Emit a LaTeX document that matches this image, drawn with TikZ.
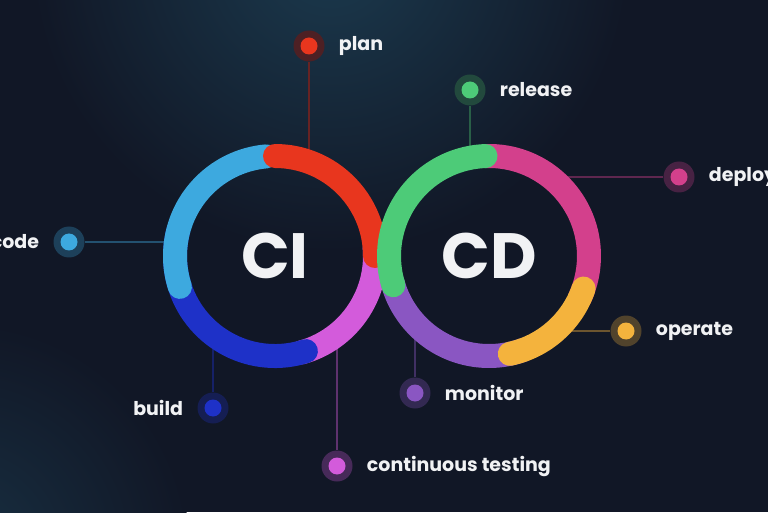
\documentclass[tikz,border=0pt]{standalone}
\usepackage{fontspec}
\setmainfont{Poppins}
\usetikzlibrary{positioning}

\definecolor{bgc}{HTML}{111726}
\definecolor{glowc}{HTML}{1B3A4E}
\definecolor{labelc}{HTML}{F1F2F4}
\definecolor{cired}{HTML}{E8361E}
\definecolor{cipink}{HTML}{D35BDB}
\definecolor{ciblue}{HTML}{1E31C8}
\definecolor{cilight}{HTML}{3DA9DF}
\definecolor{cdgreen}{HTML}{4DCB78}
\definecolor{cdpink}{HTML}{D3408C}
\definecolor{cdorange}{HTML}{F4B33D}
\definecolor{cdpurple}{HTML}{8A56C2}

\tikzset{
  ring/.style={line width=24pt, line cap=round, draw=#1},
  stem/.style={line width=2.5pt, draw=#1!40!bgc},
  dot/.style={circle, inner sep=0pt, minimum size=31pt, fill=#1!28!bgc,
    path picture={\fill[#1] (path picture bounding box.center) circle (8.5pt);}},
  lbl/.style={text=labelc, inner sep=0pt, font=\fontsize{19}{19}\selectfont\bfseries},
  big/.style={text=labelc, inner sep=0pt, font=\fontsize{64}{64}\selectfont\bfseries},
}

\begin{document}
\begin{tikzpicture}[x=1pt, y=1pt]
  % Background
  \useasboundingbox (0,0) rectangle (768,512);
  \fill[bgc] (0,0) rectangle (768,512);
  \begin{scope}
    \clip (0,0) rectangle (768,512);
    \shade[inner color=glowc, outer color=bgc] (330,560) circle (300pt);
    \shade[inner color=glowc!70!bgc, outer color=bgc] (-40,-40) circle (230pt);
  \end{scope}

  % Ring centres
  \coordinate (ci) at (275,256);
  \coordinate (cd) at (489,256);

  % Stage dots
  \node[dot=cired]    (plan)    at (309,466) {};
  \node[dot=cdgreen]  (release) at (470,422) {};
  \node[dot=cdpink]   (deploy)  at (679,335) {};
  \node[dot=cilight]  (code)    at (69,270)  {};
  \node[dot=cdorange] (operate) at (626,181) {};
  \node[dot=ciblue]   (build)   at (213,104) {};
  \node[dot=cdpurple] (monitor) at (415,119) {};
  \node[dot=cipink]   (testing) at (337,46)  {};

  % Where the stems meet the rings
  \coordinate (plan-end)    at (309,350);
  \coordinate (release-end) at (470,354);
  \coordinate (deploy-end)  at (550,335);
  \coordinate (code-end)    at (176,270);
  \coordinate (operate-end) at (555,181);
  \coordinate (build-end)   at (213,178);
  \coordinate (monitor-end) at (415,189);
  \coordinate (testing-end) at (337,178);

  % Stems
  \draw[stem=cired]    (plan)    -- (plan-end);
  \draw[stem=cdgreen]  (release) -- (release-end);
  \draw[stem=cdpink]   (deploy)  -- (deploy-end);
  \draw[stem=cilight]  (code)    -- (code-end);
  \draw[stem=cdorange] (operate) -- (operate-end);
  \draw[stem=ciblue]   (build)   -- (build-end);
  \draw[stem=cdpurple] (monitor) -- (monitor-end);
  \draw[stem=cipink]   (testing) -- (testing-end);

  % CI ring
  \draw[ring=cipink]  ([shift={(5:100pt)}]ci)    arc[start angle=5,    end angle=-75,  radius=100pt];
  \draw[ring=ciblue]  ([shift={(-72:100pt)}]ci)  arc[start angle=-72,  end angle=-195, radius=100pt];
  \draw[ring=cilight] ([shift={(198:100pt)}]ci)  arc[start angle=198,  end angle=95,   radius=100pt];
  \draw[ring=cired]   ([shift={(90:100pt)}]ci)   arc[start angle=90,   end angle=0,    radius=100pt];

  % CD ring
  \draw[ring=cdpink]   ([shift={(92:100pt)}]cd)  arc[start angle=92,  end angle=-25,  radius=100pt];
  \draw[ring=cdpurple] ([shift={(-70:100pt)}]cd) arc[start angle=-70, end angle=-165, radius=100pt];
  \draw[ring=cdgreen]  ([shift={(92:100pt)}]cd)  arc[start angle=92,  end angle=197,  radius=100pt];
  \draw[ring=cdorange] ([shift={(-19:100pt)}]cd) arc[start angle=-19, end angle=-78,  radius=100pt];

  % Titles
  \node[big] (ci-text) at (ci) {CI};
  \node[big] (cd-text) at (cd) {CD};

  % Stage labels
  \node[lbl, right=14pt of plan]    (plan-lbl)    {plan};
  \node[lbl, right=14pt of release] (release-lbl) {release};
  \node[lbl, right=14pt of deploy]  (deploy-lbl)  {deploy};
  \node[lbl, left=14pt of code]     (code-lbl)    {code};
  \node[lbl, right=14pt of operate] (operate-lbl) {operate};
  \node[lbl, left=14pt of build]    (build-lbl)   {build};
  \node[lbl, right=14pt of monitor] (monitor-lbl) {monitor};
  \node[lbl, right=14pt of testing] (testing-lbl) {continuous testing};
\end{tikzpicture}
\end{document}
